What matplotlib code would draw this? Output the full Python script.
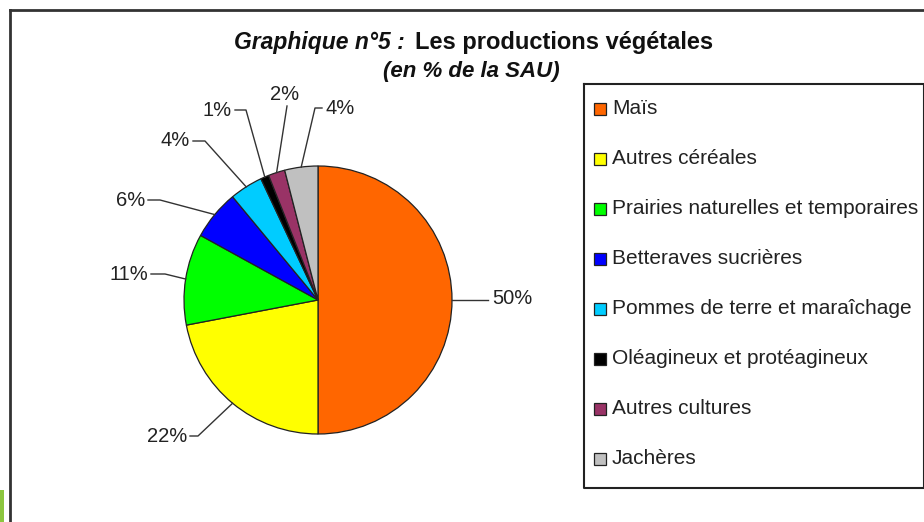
# Pie chart: les productions végétales (en % de la SAU).
import matplotlib.pyplot as plt
from matplotlib.patches import Rectangle
from matplotlib.lines import Line2D
import numpy as np

# Data.
categories = ['Maïs', 'Autres céréales', 'Prairies naturelles et temporaires',
              'Betteraves sucrières', 'Pommes de terre et maraîchage',
              'Oléagineux et protéagineux', 'Autres cultures', 'Jachères']
shares = [50, 22, 11, 6, 4, 1, 2, 4]
colors = ['#FF6600', '#FFFF00', '#00FF00', '#0000FF', '#00CCFF',
          '#000000', '#993366', '#C0C0C0']

# Label layout in pixels: text position, alignment, leader start and knee.
label_pos = [(492, 299), (187, 436), (148, 274), (145, 200),
             (190, 141), (232, 110), (285, 95), (325, 108)]
label_ha = ['left', 'right', 'right', 'right', 'right', 'right', 'center', 'left']
leader_start = [(488, 300), (190, 436), (151, 274), (148, 200),
                (193, 141), (235, 110), (287, 106), (322, 108)]
leader_knee = [(488, 300), (198, 436), (165, 274), (160, 200),
               (205, 141), (246, 110), (287, 106), (315, 108)]

W, H = 924, 522
CX, CY, R = 318, 300, 134

plt.rcParams['font.family'] = ['Liberation Sans', 'DejaVu Sans']

fig = plt.figure(figsize=(W / 100, H / 100), dpi=100)
fig.patch.set_facecolor('white')


def px(x, y):
    """Convert picture pixels to pie data coordinates."""
    return (x - CX) / R, (CY - y) / R


ax = fig.add_axes([0, 0, 1, 1])
wedges, _ = ax.pie(shares, colors=colors, startangle=90, counterclock=False,
                   radius=1, wedgeprops=dict(edgecolor='#222222', linewidth=0.9))
ax.set_xlim(-CX / R, (W - CX) / R)
ax.set_ylim(-(H - CY) / R, CY / R)
ax.set_aspect('auto')
ax.axis('off')

# Percent labels with leader lines.
for w, val, pos, ha, s, k in zip(wedges, shares, label_pos, label_ha,
                                 leader_start, leader_knee):
    mid = np.deg2rad((w.theta1 + w.theta2) / 2)
    ex, ey = np.cos(mid), np.sin(mid)
    pts = [px(*s), px(*k), (ex, ey)]
    ax.plot([p[0] for p in pts], [p[1] for p in pts], color='#333333', lw=1.0)
    tx, ty = px(*pos)
    ax.text(tx, ty, f'{val}%', ha=ha, va='center', fontsize=14.5, color='#222222')

# Title.
fig.text(405 / W, 1 - 42 / H, 'Graphique n°5 :', ha='right', va='center',
         fontsize=16.5, style='italic', weight='bold', color='#111111')
fig.text(415 / W, 1 - 42 / H, 'Les productions végétales', ha='left', va='center',
         fontsize=17, weight='bold', color='#111111')
fig.text(471 / W, 1 - 72 / H, '(en % de la SAU)', ha='center', va='center',
         fontsize=16, style='italic', weight='bold', color='#111111')

# Outer frame (top and left edges visible).
fig.add_artist(Line2D([10 / W, 1], [1 - 10 / H, 1 - 10 / H], color='#333333', lw=2))
fig.add_artist(Line2D([10 / W, 10 / W], [1 - 10 / H, 0], color='#333333', lw=2))
fig.add_artist(Rectangle((0, 0), 4 / W, 32 / H, color='#8CC63E', lw=0))

# Legend box.
fig.add_artist(Line2D([584 / W, 1, 1, 584 / W, 584 / W],
                      [1 - 84 / H, 1 - 84 / H, 1 - 488 / H, 1 - 488 / H, 1 - 84 / H],
                      color='#222222', lw=1.5))
for i, (name, c) in enumerate(zip(categories, colors)):
    y = 109 + i * 50
    fig.add_artist(Rectangle((594 / W, 1 - (y + 6) / H), 12 / W, 12 / H,
                             facecolor=c, edgecolor='#222222', lw=0.9))
    fig.text(612 / W, 1 - y / H, name, ha='left', va='center',
             fontsize=15, color='#222222')

fig.savefig('out.png', dpi=100, facecolor='white')
